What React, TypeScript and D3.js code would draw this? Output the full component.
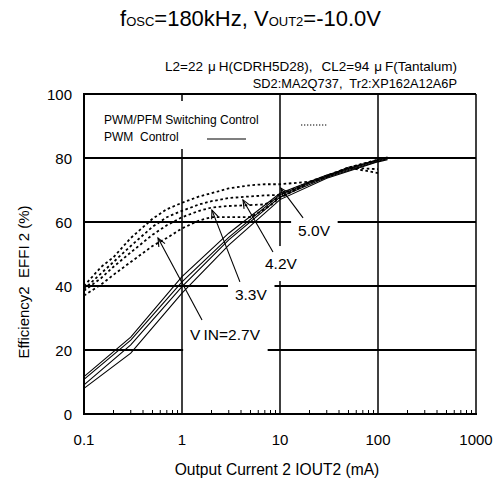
import React, { useEffect, useRef } from "react";
import { select, scaleLog, scaleLinear, line } from "d3";

// axis ticks
const xTicks = [0.1, 1, 10, 100, 1000];
const xTickLabels = ["0.1", "1", "10", "100", "1000"];
const yTicks = [0, 20, 40, 60, 80, 100];
const gridY = [20, 40, 60, 80, 100];
const gridX = [1, 10, 100, 1000];

// PWM control (solid)
const pwmCurrent = [0.1, 0.3, 1, 3, 10, 30, 100, 125];
const pwmA = [11.7, 24, 42.9, 56.5, 69, 74.7, 79.5, 80.3];
const pwmB = [10.8, 23.1, 41.3, 55.2, 68.5, 74.3, 79.3, 80];
const pwmC = [9.1, 21.6, 39.8, 54.4, 67.8, 74, 79, 79.8];
const pwmD = [8, 19, 37.8, 52.8, 67, 73.7, 78.8, 79.5];

// PWM/PFM switching control (dotted)
const pfmCurrent = [0.1, 0.15, 0.2, 0.3, 0.5, 0.7, 1, 1.5, 2, 3, 5, 7, 10, 20, 30, 50, 100];
const pfm50 = [40, 46, 49, 55, 61, 64, 66, 68, 69, 70.5, 71.5, 71.8, 71.8, 72.6, 74.5, 77, 79.5];
const pfm42 = [39, 44, 47.5, 52.5, 58.5, 61.5, 63.5, 65.5, 66.5, 67.5, 68, 68.3, 68.5, 72.5, 74.3, 77, 79.3];
const pfm33 = [38.5, 42.5, 46, 50.5, 56, 59, 61.5, 63.5, 64.5, 65, 65.3, 65.5, 67.8, 72.4, 74.2, 77, 76.5];
const pfm27 = [37, 40.5, 43.5, 47.5, 52.5, 55, 58, 60.5, 61.5, 61.5, 61.5, 64, 67.5, 72.3, 74, 77, 75.3];

// VIN labels: text anchor, arrow tail, arrow tip (data coords)
const vinLabels = ["V\u2009IN=2.7V", "3.3V", "4.2V", "5.0V"];
const labelAt = [[1.21, 23.1], [3.47, 35.6], [7.03, 45.3], [15.3, 55.6]];
const arrowTail = [[1.6, 29.4], [3.9, 41.3], [8.48, 50.6], [17.2, 61.3]];
const arrowTip = [[0.569, 55], [2.02, 63.7], [4.19, 66.9], [10.2, 70.6]];

const font = "Arial, 'Liberation Sans', sans-serif";

function chart(node: HTMLDivElement) {
  const width = 497;
  const height = 486;

  const x = scaleLog().domain([0.1, 1000]).range([84, 476]);
  const y = scaleLinear().domain([0, 100]).range([414, 94]);

  select(node).selectAll("*").remove();
  const svg = select(node)
    .append("svg")
    .attr("width", width)
    .attr("height", height)
    .attr("viewBox", [0, 0, width, height])
    .style("display", "block")
    .style("background", "#fff")
    .attr("font-family", font);

  // title
  const title = svg.append("text").attr("x", 120).attr("y", 26).attr("font-size", 22);
  title.append("tspan").text("f");
  title.append("tspan").attr("font-size", 13).text("OSC");
  title.append("tspan").text("=180kHz, V");
  title.append("tspan").attr("font-size", 13).text("OUT2");
  title.append("tspan").text("=-10.0V");

  const sub = svg.append("text").attr("x", 457).attr("y", 71).attr("font-size", 13.5)
    .attr("text-anchor", "end");
  sub.append("tspan").text("L2=22");
  sub.append("tspan").attr("dx", 5).text("\u03bc");
  sub.append("tspan").attr("dx", 3).text("H(CDRH5D28),");
  sub.append("tspan").attr("dx", 9).text("CL2=94");
  sub.append("tspan").attr("dx", 5).text("\u03bc");
  sub.append("tspan").attr("dx", 3).text("F(Tantalum)");
  svg.append("text").attr("x", 457).attr("y", 88).attr("font-size", 12.8)
    .attr("text-anchor", "end").text("SD2:MA2Q737,  Tr2:XP162A12A6P").style("white-space", "pre");

  // grid
  svg.append("g").selectAll("line").data(gridY).join("line")
    .attr("x1", x(0.1)).attr("x2", x(1000))
    .attr("y1", (d) => y(d)).attr("y2", (d) => y(d))
    .attr("stroke", "#000").attr("stroke-width", 2.2);
  svg.append("g").selectAll("line").data(gridX).join("line")
    .attr("x1", (d) => x(d)).attr("x2", (d) => x(d))
    .attr("y1", y(0)).attr("y2", y(100))
    .attr("stroke", "#000").attr("stroke-width", 1.5);

  // minor ticks
  const minors: number[] = [];
  [0.1, 1, 10, 100].forEach((dec) => {
    for (let m = 2; m <= 9; m++) minors.push(dec * m);
  });
  svg.append("g").selectAll("line").data(minors).join("line")
    .attr("x1", (d) => x(d)).attr("x2", (d) => x(d))
    .attr("y1", y(0)).attr("y2", y(0) - 4)
    .attr("stroke", "#000").attr("stroke-width", 1);

  // axes
  svg.append("line").attr("x1", x(0.1)).attr("x2", x(0.1)).attr("y1", y(0) + 1).attr("y2", y(100) - 1)
    .attr("stroke", "#000").attr("stroke-width", 2);
  svg.append("line").attr("x1", x(0.1) - 1).attr("x2", x(1000) + 1).attr("y1", y(0)).attr("y2", y(0))
    .attr("stroke", "#000").attr("stroke-width", 2);

  // tick labels
  svg.append("g").selectAll("text").data(yTicks).join("text")
    .attr("x", 72).attr("y", (d) => y(d) + 5.5)
    .attr("text-anchor", "end").attr("font-size", 15).text((d) => d);
  svg.append("g").selectAll("text").data(xTicks).join("text")
    .attr("x", (d) => x(d)).attr("y", 445)
    .attr("text-anchor", "middle").attr("font-size", 15).text((d, i) => xTickLabels[i]);

  svg.append("text").attr("x", 277).attr("y", 475).attr("text-anchor", "middle")
    .attr("font-size", 15.6).text("Output Current 2 IOUT2 (mA)");
  svg.append("text").attr("transform", "translate(29,282) rotate(-90)").attr("text-anchor", "middle")
    .attr("font-size", 15).text("Efficiency2  EFFI 2 (%)").style("white-space", "pre");

  // legend
  svg.append("rect").attr("x", 98).attr("y", 101).attr("width", 166).attr("height", 48).attr("fill", "#fff");
  svg.append("text").attr("x", 104).attr("y", 124).attr("font-size", 12).text("PWM/PFM Switching Control");
  svg.append("text").attr("x", 104).attr("y", 141).attr("font-size", 12).text("PWM  Control").style("white-space", "pre");
  svg.append("line").attr("x1", 301).attr("x2", 327).attr("y1", 125).attr("y2", 125)
    .attr("stroke", "#000").attr("stroke-width", 1.2).attr("stroke-dasharray", "1.3 1.7");
  svg.append("line").attr("x1", 207).attr("x2", 246).attr("y1", 139).attr("y2", 139)
    .attr("stroke", "#000").attr("stroke-width", 1.2);

  // VIN label boxes and text
  const labels = svg.append("g").attr("font-size", 15.5);
  vinLabels.forEach((t, i) => {
    const g = labels.append("g");
    const rect = g.append("rect").attr("fill", "#fff");
    const txt = g.append("text").attr("x", x(labelAt[i][0])).attr("y", y(labelAt[i][1])).text(t);
    const b = (txt.node() as SVGTextElement).getBBox();
    rect.attr("x", b.x - 7).attr("y", b.y - 9).attr("width", b.width + 14).attr("height", b.height + 18);
  });

  const path = line<number>();

  // curves
  const solid = [pwmA, pwmB, pwmC, pwmD];
  svg.append("g").selectAll("path").data(solid).join("path")
    .attr("d", (s) => path.x((d, i) => x(pwmCurrent[i])).y((d) => y(d))(s))
    .attr("fill", "none").attr("stroke", "#000").attr("stroke-width", 1.1);

  const dotted = [pfm27, pfm33, pfm42, pfm50];
  svg.append("g").selectAll("path").data(dotted).join("path")
    .attr("d", (s) => path.x((d, i) => x(pfmCurrent[i])).y((d) => y(d))(s))
    .attr("fill", "none").attr("stroke", "#000").attr("stroke-width", 1.8)
    .attr("stroke-dasharray", "2.6 2.6");

  // arrows
  const arrows = svg.append("g").attr("stroke", "#000").attr("stroke-width", 1.1).attr("fill", "none");
  vinLabels.forEach((t, i) => {
    const x1 = x(arrowTail[i][0]), y1 = y(arrowTail[i][1]);
    const x2 = x(arrowTip[i][0]), y2 = y(arrowTip[i][1]);
    arrows.append("line").attr("x1", x1).attr("y1", y1).attr("x2", x2).attr("y2", y2);
    const a = Math.atan2(y2 - y1, x2 - x1);
    const L = 9, w = 0.4;
    arrows.append("path").attr("d",
      `M${x2 - L * Math.cos(a - w)},${y2 - L * Math.sin(a - w)}L${x2},${y2}L${x2 - L * Math.cos(a + w)},${y2 - L * Math.sin(a + w)}`);
  });
}

export default function App() {
  const ref = useRef<HTMLDivElement>(null);
  useEffect(() => {
    document.body.style.margin = "0";
    if (ref.current) chart(ref.current);
  }, []);
  return <div ref={ref} />;
}
